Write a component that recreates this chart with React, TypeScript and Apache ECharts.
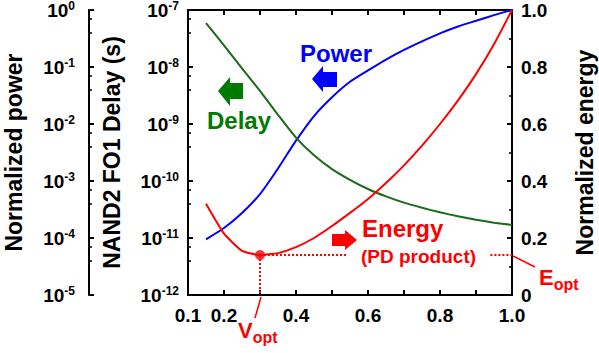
import React, { useEffect, useRef } from 'react';
import * as echarts from 'echarts';

// Supply voltage (V)
const voltage = [0.15, 0.2, 0.25, 0.3, 0.35, 0.4, 0.45, 0.5, 0.55, 0.6, 0.65, 0.7, 0.75, 0.8, 0.85, 0.9, 0.95, 1.0];
// Normalized power (left outer log axis)
const normalizedPower = [9.5e-5, 1.5e-4, 2.75e-4, 5.9e-4, 1.66e-3, 5.1e-3, 1.38e-2, 2.95e-2, 5.5e-2, 8.7e-2, 0.135, 0.2, 0.282, 0.389, 0.513, 0.646, 0.813, 1.0];
// NAND2 FO1 delay in seconds (left inner log axis)
const delaySeconds = [5.9e-8, 2.4e-8, 9.5e-9, 3.8e-9, 1.45e-9, 5.75e-10, 2.82e-10, 1.62e-10, 1.05e-10, 7.24e-11, 5.37e-11, 4.17e-11, 3.39e-11, 2.82e-11, 2.4e-11, 2.09e-11, 1.86e-11, 1.7e-11];
// Normalized energy (right linear axis)
const normalizedEnergy = [0.32, 0.215, 0.155, 0.14, 0.147, 0.168, 0.2, 0.242, 0.288, 0.337, 0.393, 0.455, 0.524, 0.6, 0.683, 0.775, 0.88, 1.0];
// Optimum point
const vOpt = 0.3;
const eOpt = 0.14;
// Where the dotted E_opt guide is interrupted by the "(PD product)" label
const eGuideSegments = [[0.3, 0.54], [0.94, 1.0]];
// X tick labels that are shown
const xTickLabels = ['0.1', '0.2', '0.4', '0.6', '0.8', '1.0'];

const FONT = '"Liberation Sans", Arial, Helvetica, sans-serif';
const RED = '#ff0000';
const BLUE = '#0000ff';
const GREEN = '#007a00';
const GREEN_LINE = '#1a6a1a';

const powRich = {
  b: { fontSize: 19, fontWeight: 'bold', fontFamily: FONT, color: '#000', lineHeight: 20, verticalAlign: 'middle' },
  s: { fontSize: 12, fontWeight: 'bold', fontFamily: FONT, color: '#000', lineHeight: 10, verticalAlign: 'top' },
};
const powFormatter = (v: number) => `{b|10}{s|${Math.round(Math.log10(v))}}`;

export default function App() {
  const ref = useRef<HTMLDivElement>(null);
  useEffect(() => {
    document.body.style.margin = '0';
    if (!ref.current) return;
    const chart = echarts.init(ref.current, null, { renderer: 'svg' });

    const axisLine = { show: true, onZero: false, lineStyle: { color: '#000', width: 2 } };
    const nameStyle = { fontSize: 23, fontWeight: 'bold', fontFamily: FONT, color: '#000' };
    const labelBase = { fontSize: 19, fontWeight: 'bold', fontFamily: FONT, color: '#000' };

    const pts = (ys: number[]) => voltage.map((v, i) => [v, ys[i]]);
    const guideData: any[] = [];
    eGuideSegments.forEach((seg, i) => {
      if (i > 0) guideData.push([null, null]);
      guideData.push([seg[0], eOpt], [seg[1], eOpt]);
    });

    const arrow = (pts: number[][], color: string) => ({
      type: 'polygon',
      shape: { points: pts },
      style: { fill: color },
    });

    chart.setOption({
      animation: false,
      backgroundColor: '#fff',
      grid: { left: 188, right: 87, top: 10, bottom: 58, containLabel: false, outerBoundsMode: 'none' },
      xAxis: [
        {
          type: 'value', min: 0.1, max: 1.0, interval: 0.1, position: 'bottom',
          axisLine, splitLine: { show: false },
          axisTick: { show: true, inside: true, length: 5, lineStyle: { color: '#000', width: 2 } },
          axisLabel: {
            ...labelBase, margin: 11,
            formatter: (v: number) => {
              const s = (Math.round(v * 10) / 10).toFixed(1);
              return xTickLabels.includes(s) ? s : '';
            },
          },
        },
        {
          type: 'value', min: 0.1, max: 1.0, interval: 0.1, position: 'top',
          axisLine, splitLine: { show: false },
          axisTick: { show: true, inside: true, length: 5, lineStyle: { color: '#000', width: 2 } },
          axisLabel: { show: false },
        },
      ],
      yAxis: [
        {
          type: 'log', logBase: 10, min: 1e-5, max: 1, position: 'left', offset: 99,
          name: 'Normalized power', nameLocation: 'middle', nameRotate: 90, nameGap: 64, nameTextStyle: nameStyle,
          nameMoveOverlap: false,
          axisLine, splitLine: { show: false },
          axisTick: { show: true, inside: true, length: 5, lineStyle: { color: '#000', width: 2 } },
          minorTick: { show: true, splitNumber: 3, length: 3, lineStyle: { color: '#000', width: 1.5 } },
          axisLabel: { formatter: powFormatter, rich: powRich, margin: 14 },
        },
        {
          type: 'log', logBase: 10, min: 1e-12, max: 1e-7, position: 'left', offset: 0,
          name: 'NAND2 FO1 Delay (s)', nameLocation: 'middle', nameRotate: 90, nameGap: 65, nameTextStyle: nameStyle,
          nameMoveOverlap: false,
          axisLine, splitLine: { show: false },
          axisTick: { show: true, inside: true, length: 5, lineStyle: { color: '#000', width: 2 } },
          minorTick: { show: true, splitNumber: 3, length: 3, lineStyle: { color: '#000', width: 1.5 } },
          axisLabel: { formatter: powFormatter, rich: powRich, margin: 9 },
        },
        {
          type: 'value', min: 0, max: 1, interval: 0.2, position: 'right',
          name: 'Normalized energy', nameLocation: 'middle', nameRotate: 90, nameGap: 61, nameTextStyle: nameStyle,
          nameMoveOverlap: false,
          axisLine, splitLine: { show: false },
          axisTick: { show: true, inside: true, length: 5, lineStyle: { color: '#000', width: 2 } },
          minorTick: { show: true, splitNumber: 2, length: 3, lineStyle: { color: '#000', width: 1.5 } },
          axisLabel: { ...labelBase, margin: 9, formatter: (v: number) => (v === 0 ? '0' : v.toFixed(1)) },
        },
      ],
      series: [
        {
          type: 'line', name: 'Power', yAxisIndex: 0, data: pts(normalizedPower), smooth: 0.2,
          showSymbol: false, symbol: 'none', lineStyle: { color: BLUE, width: 2 }, z: 3,
        },
        {
          type: 'line', name: 'Delay', yAxisIndex: 1, data: pts(delaySeconds), smooth: 0.2,
          showSymbol: false, symbol: 'none', lineStyle: { color: GREEN_LINE, width: 2 }, z: 3,
        },
        {
          type: 'line', name: 'Energy', yAxisIndex: 2, data: pts(normalizedEnergy), smooth: 0.15,
          showSymbol: false, symbol: 'none', lineStyle: { color: RED, width: 2 }, z: 4,
        },
        {
          type: 'line', name: 'Eopt guide', yAxisIndex: 2, data: guideData, connectNulls: false,
          showSymbol: false, symbol: 'none', lineStyle: { color: RED, width: 2, type: [2, 2] }, z: 2,
        },
        {
          type: 'line', name: 'Vopt guide', yAxisIndex: 2, data: [[vOpt, eOpt], [vOpt, 0]],
          showSymbol: false, symbol: 'none', lineStyle: { color: RED, width: 2, type: [2, 2] }, z: 2,
        },
        {
          type: 'scatter', name: 'Optimum', yAxisIndex: 2, data: [[vOpt, eOpt]],
          symbol: 'circle', symbolSize: 10, itemStyle: { color: RED }, z: 5,
        },
      ],
      graphic: [
        // arrows
        arrow([[312, 79], [323, 66], [323, 72], [337, 72], [337, 87], [323, 87], [323, 92]], BLUE),
        arrow([[218, 91], [230, 77], [230, 83], [243, 83], [243, 99], [230, 99], [230, 106]], GREEN),
        arrow([[357, 240], [345, 230], [345, 234], [332, 234], [332, 246], [345, 246], [345, 250]], RED),
        // labels
        { type: 'text', x: 336, y: 53, style: { text: 'Power', fill: BLUE, fontSize: 24, fontWeight: 'bold', fontFamily: FONT, align: 'center', verticalAlign: 'middle' } },
        { type: 'text', x: 239, y: 120, style: { text: 'Delay', fill: GREEN, fontSize: 24, fontWeight: 'bold', fontFamily: FONT, align: 'center', verticalAlign: 'middle' } },
        { type: 'text', x: 362, y: 228, style: { text: 'Energy', fill: RED, fontSize: 24, fontWeight: 'bold', fontFamily: FONT, align: 'left', verticalAlign: 'middle' } },
        { type: 'text', x: 361, y: 256, style: { text: '(PD product)', fill: RED, fontSize: 19, fontWeight: 'bold', fontFamily: FONT, align: 'left', verticalAlign: 'middle' } },
        // leader lines
        { type: 'line', shape: { x1: 261, y1: 297, x2: 255, y2: 318 }, style: { stroke: RED, lineWidth: 1.5 } },
        { type: 'line', shape: { x1: 513, y1: 256, x2: 535, y2: 267 }, style: { stroke: RED, lineWidth: 1.5 } },
        {
          type: 'text', x: 238, y: 332,
          style: {
            text: '{v|V}{s|opt}', align: 'left', verticalAlign: 'middle',
            rich: {
              v: { fontSize: 22, fontWeight: 'bold', fontFamily: FONT, fill: RED, color: RED, lineHeight: 26, verticalAlign: 'top' },
              s: { fontSize: 16, fontWeight: 'bold', fontFamily: FONT, fill: RED, color: RED, lineHeight: 16, verticalAlign: 'bottom' },
            },
          },
        },
        {
          type: 'text', x: 539, y: 279,
          style: {
            text: '{v|E}{s|opt}', align: 'left', verticalAlign: 'middle',
            rich: {
              v: { fontSize: 22, fontWeight: 'bold', fontFamily: FONT, fill: RED, color: RED, lineHeight: 26, verticalAlign: 'top' },
              s: { fontSize: 16, fontWeight: 'bold', fontFamily: FONT, fill: RED, color: RED, lineHeight: 16, verticalAlign: 'bottom' },
            },
          },
        },
      ],
    });
    return () => chart.dispose();
  }, []);
  return <div ref={ref} style={{ width: 599, height: 353 }} />;
}
